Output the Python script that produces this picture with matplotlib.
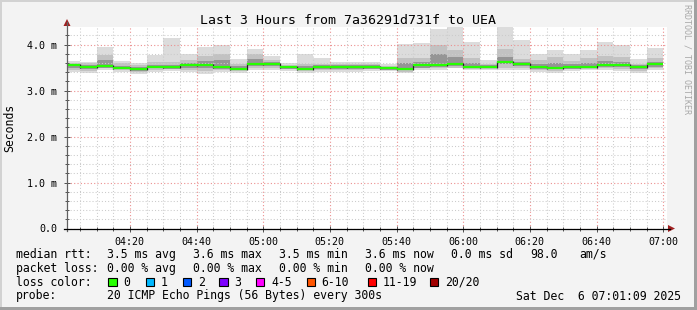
import matplotlib
matplotlib.use("Agg")
import matplotlib.pyplot as plt
from matplotlib.lines import Line2D
from matplotlib.patches import Rectangle, Polygon
import numpy as np
import pandas as pd

# ---------------- data ----------------
title = "Last 3 Hours from 7a36291d731f to UEA"
bar_times = pd.date_range("2025-12-06 04:00", "2025-12-06 06:55", freq="5min")
view_start = pd.Timestamp("2025-12-06 04:01:09")
view_end = pd.Timestamp("2025-12-06 07:01:09")
xtick_labels = ["04:20", "04:40", "05:00", "05:20", "05:40", "06:00", "06:20", "06:40", "07:00"]
ytick_values = [0.0, 1.0, 2.0, 3.0, 4.0]
ytick_labels = ["0.0", "1.0 m", "2.0 m", "3.0 m", "4.0 m"]

# median rtt per 5-min step (ms)
median = [3.548, 3.504, 3.540, 3.496, 3.467, 3.518, 3.504, 3.548, 3.548, 3.510, 3.474, 3.583,
          3.583, 3.504, 3.474, 3.504, 3.510, 3.510, 3.510, 3.482, 3.474, 3.548, 3.548, 3.576,
          3.510, 3.510, 3.627, 3.576, 3.504, 3.496, 3.504, 3.510, 3.554, 3.554, 3.504, 3.576]
smoke_max = [3.64, 3.63, 3.95, 3.64, 3.60, 3.77, 4.15, 3.79, 3.95, 3.99, 3.68, 3.90,
             3.76, 3.60, 3.79, 3.71, 3.63, 3.63, 3.63, 3.57, 4.01, 4.04, 4.33, 4.37,
             4.06, 3.66, 4.37, 4.10, 3.79, 3.87, 3.79, 3.87, 4.05, 3.99, 3.68, 3.93]
smoke_hi = [3.60, 3.60, 3.78, 3.60, 3.56, 3.62, 3.62, 3.66, 3.75, 3.80, 3.58, 3.80,
            3.66, 3.56, 3.58, 3.58, 3.58, 3.58, 3.58, 3.54, 3.70, 3.70, 4.00, 3.88,
            3.70, 3.58, 3.90, 3.68, 3.66, 3.72, 3.65, 3.70, 3.76, 3.72, 3.58, 3.70]
smoke_dark_hi = [3.58, 3.55, 3.66, 3.54, 3.52, 3.56, 3.56, 3.60, 3.64, 3.66, 3.53, 3.68,
                 3.62, 3.53, 3.54, 3.55, 3.55, 3.55, 3.55, 3.51, 3.60, 3.62, 3.80, 3.72,
                 3.60, 3.55, 3.72, 3.62, 3.58, 3.60, 3.57, 3.60, 3.64, 3.62, 3.55, 3.62]
smoke_dark_lo = [3.50, 3.47, 3.50, 3.46, 3.43, 3.48, 3.47, 3.50, 3.50, 3.47, 3.44, 3.53,
                 3.53, 3.47, 3.44, 3.47, 3.47, 3.47, 3.47, 3.45, 3.44, 3.50, 3.51, 3.53,
                 3.48, 3.48, 3.57, 3.53, 3.47, 3.46, 3.47, 3.48, 3.51, 3.51, 3.47, 3.51]
smoke_lo = [3.45, 3.43, 3.48, 3.44, 3.40, 3.45, 3.46, 3.45, 3.42, 3.44, 3.42, 3.49,
            3.49, 3.46, 3.42, 3.45, 3.45, 3.45, 3.46, 3.46, 3.41, 3.48, 3.48, 3.50,
            3.47, 3.47, 3.49, 3.48, 3.44, 3.42, 3.46, 3.47, 3.48, 3.46, 3.42, 3.48]
smoke_min = [3.40, 3.39, 3.45, 3.41, 3.36, 3.41, 3.43, 3.41, 3.36, 3.41, 3.39, 3.45,
             3.45, 3.43, 3.39, 3.41, 3.41, 3.41, 3.43, 3.43, 3.37, 3.45, 3.45, 3.48,
             3.45, 3.45, 3.45, 3.45, 3.41, 3.39, 3.43, 3.45, 3.45, 3.43, 3.39, 3.45]

loss_labels = ["0", "1", "2", "3", "4-5", "6-10", "11-19", "20/20"]
loss_colors = ["#26ff00", "#00b8ff", "#0059ff", "#7e00ff", "#ff00ff", "#ff5500", "#ff0000", "#a10000"]
packet_loss = ["0.00 % avg", "0.00 % max", "0.00 % min", "0.00 % now"]
probe_text = "20 ICMP Echo Pings (56 Bytes) every 300s"
date_text = "Sat Dec  6 07:01:09 2025"

# ---------------- layout ----------------
W, H = 697, 310
MONO = "DejaVu Sans Mono"
plt.rcParams["font.family"] = MONO

fig = plt.figure(figsize=(W / 100, H / 100), dpi=100, facecolor="#f3f3f3")


def fx(px):
    return px / W


def fy(py):
    return 1 - py / H


L, R, T, B = 67, 667, 26.7, 228.5
ax = fig.add_axes([fx(L), fy(B), (R - L) / W, (B - T) / H])
ax.set_facecolor("white")

origin = pd.Timestamp("2025-12-06 04:00")
to_min = lambda t: (pd.Timestamp(t) - origin).total_seconds() / 60.0
starts = np.array([to_min(t) for t in bar_times])
step = 5.0
x0, x1 = to_min(view_start), to_min(view_end)
ax.set_xlim(x0, x1)
ax.set_ylim(0, 4.387)

kw = dict(width=step, align="edge", linewidth=0, antialiased=False)
mx, hi, dhi = np.array(smoke_max), np.array(smoke_hi), np.array(smoke_dark_hi)
mn, lo, dlo = np.array(smoke_min), np.array(smoke_lo), np.array(smoke_dark_lo)
ax.bar(starts, mx - mn, bottom=mn, color="#dcdcdc", zorder=1, **kw)
ax.bar(starts, hi - lo, bottom=lo, color="#c2c2c2", zorder=1.1, **kw)
ax.bar(starts, dhi - dlo, bottom=dlo, color="#959595", zorder=1.2, **kw)

med = np.array(median)
ax.vlines(starts[1:], np.minimum(med[:-1], med[1:]) - 0.02, np.maximum(med[:-1], med[1:]) + 0.02,
          color="#202020", lw=0.9, zorder=3.5)
ax.hlines(med, starts, starts + step, color=loss_colors[0], lw=1.6, zorder=4)

# ticks & grid
xt = [to_min("2025-12-06 " + s) for s in xtick_labels]
ax.set_xticks(xt)
ax.set_xticklabels(xtick_labels)
ax.set_xticks(np.arange(5, x1, 5), minor=True)
ax.set_yticks(ytick_values)
ax.set_yticklabels(ytick_labels)
ax.set_yticks(np.arange(0.2, 4.39, 0.2), minor=True)
ax.set_axisbelow(False)
ax.grid(which="minor", color="#cbcbcb", linestyle=(0, (1, 2)), linewidth=0.75)
ax.grid(which="major", color="#ec8f8f", linestyle=(0, (1, 2)), linewidth=0.8)
ax.tick_params(which="major", direction="inout", length=4, width=0.7, color="#505050",
               labelsize=7.2, pad=4)
ax.tick_params(which="minor", direction="inout", length=2.5, width=0.7, color="#505050")
ax.tick_params(axis="y", which="major", pad=5)
for s in ax.spines.values():
    s.set_visible(False)

# axes lines with arrows
fig.add_artist(Line2D([fx(L), fx(L)], [fy(B + 2), fy(22)], color="#606060", lw=0.9))
fig.add_artist(Line2D([fx(L - 3), fx(670)], [fy(B), fy(B)], color="#000000", lw=0.9))
fig.add_artist(Polygon([[fx(L - 3.5), fy(26)], [fx(L + 3.5), fy(26)], [fx(L), fy(19)]],
                       closed=True, color="#a02020", lw=0))
fig.add_artist(Polygon([[fx(668), fy(B - 3.5)], [fx(668), fy(B + 3.5)], [fx(675), fy(B)]],
                       closed=True, color="#a02020", lw=0))

# texts
fig.text(fx(348.5), fy(24.3), title, ha="center", va="baseline", fontsize=9.5)
fig.text(fx(10), fy(127.5), "Seconds", rotation=90, ha="center", va="center", fontsize=8.3)
fig.text(fx(687), fy(4), "RRDTOOL / TOBI OETIKER", rotation=270, ha="center", va="top",
         fontsize=6, color="#a8a8a8")

FS = 8.3
rows = [257.8, 271.8, 285.8, 299.5]
fig.text(fx(16), fy(rows[0]), "median rtt:", fontsize=FS, va="baseline")
stats = [f"{np.mean(med):.1f} ms avg", f"{np.max(med):.1f} ms max",
         f"{np.min(med):.1f} ms min", f"{med[-1]:.1f} ms now", "0.0 ms sd"]
for xp, s in zip([107, 193, 279, 365, 451], stats):
    fig.text(fx(xp), fy(rows[0]), s, fontsize=FS, va="baseline")
fig.text(fx(530), fy(rows[0]), "98.0", fontsize=FS, va="baseline")
fig.text(fx(579), fy(rows[0]), "am/s", fontsize=FS, va="baseline")

fig.text(fx(16), fy(rows[1]), "packet loss:", fontsize=FS, va="baseline")
for xp, s in zip([107, 193, 279, 365], packet_loss):
    fig.text(fx(xp), fy(rows[1]), s, fontsize=FS, va="baseline")

fig.text(fx(16), fy(rows[2]), "loss color:", fontsize=FS, va="baseline")
sw_x = [108.3, 145.7, 182.7, 219.3, 256, 306.7, 367.5, 430]
for xp, lab, col in zip(sw_x, loss_labels, loss_colors):
    fig.add_artist(Rectangle((fx(xp), fy(rows[2] + 0.5)), 8.3 / W, 8.5 / H,
                             facecolor=col, edgecolor="black", lw=0.8))
    fig.text(fx(xp + 15), fy(rows[2]), lab, fontsize=FS, va="baseline")

fig.text(fx(16), fy(rows[3]), "probe:", fontsize=FS, va="baseline")
fig.text(fx(107), fy(rows[3]), probe_text, fontsize=FS, va="baseline")
fig.text(fx(681), fy(rows[3]), date_text, fontsize=FS, va="baseline", ha="right")

# frame border
fig.add_artist(Rectangle((0, fy(2)), 1, 2 / H, facecolor="#d2d2d2", lw=0))
fig.add_artist(Rectangle((0, 0), 2 / W, 1, facecolor="#d2d2d2", lw=0))
fig.add_artist(Rectangle((0, 0), 1, 3 / H, facecolor="#a0a0a0", lw=0))
fig.add_artist(Rectangle((fx(694), 0), 3 / W, 1, facecolor="#a0a0a0", lw=0))

fig.savefig("out.png", dpi=100, facecolor=fig.get_facecolor())
